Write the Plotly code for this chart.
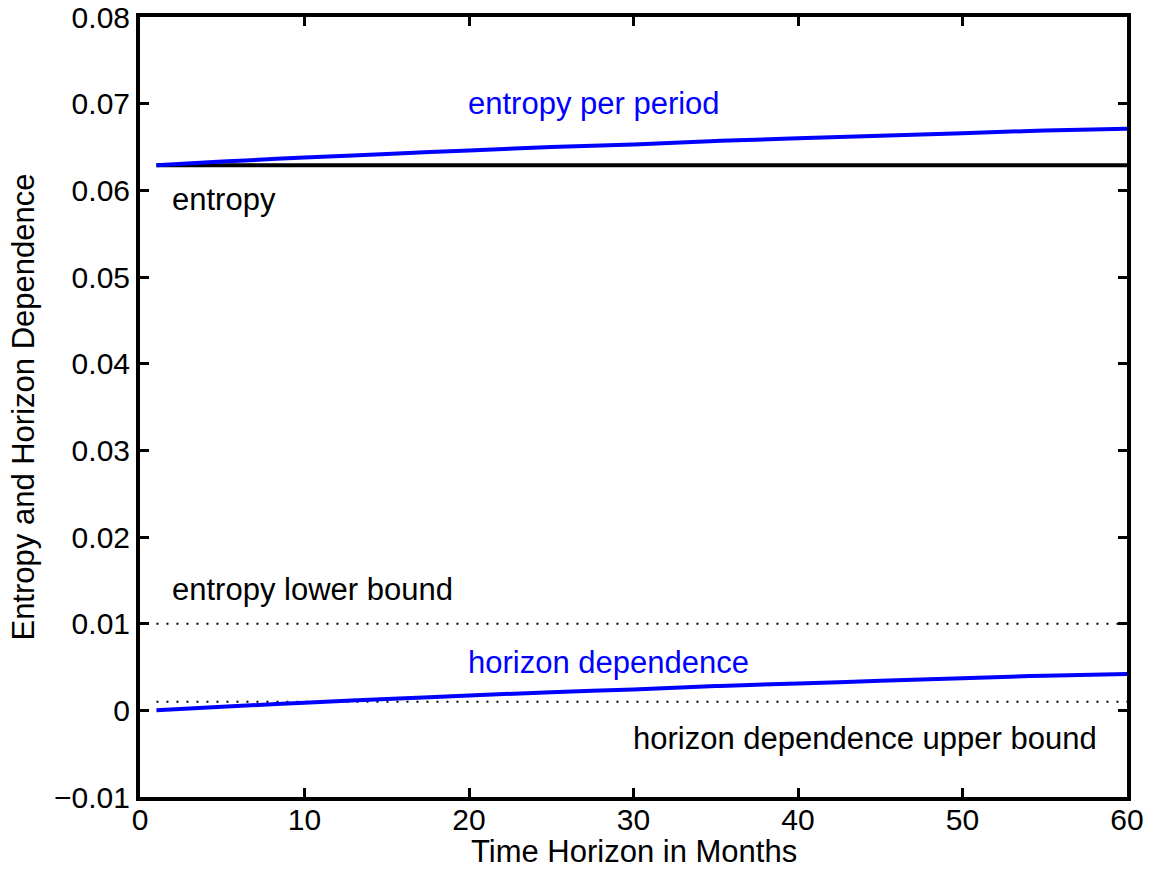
import plotly.graph_objects as go

# ---- data ----
months = [1, 5, 10, 15, 20, 25, 30, 35, 40, 45, 50, 55, 60]
horizon_dependence = [0.0, 0.00042, 0.00088, 0.0013, 0.0017, 0.0021, 0.0024,
                      0.0028, 0.0031, 0.0034, 0.0037, 0.0040, 0.0042]
entropy_value = 0.0629
entropy_per_period = [0.0629, 0.06332, 0.06378, 0.0642, 0.0646, 0.065, 0.0653,
                      0.0657, 0.066, 0.0663, 0.0666, 0.0669, 0.0671]
entropy_lower_bound = 0.01
hd_upper_bound = 0.001
bound_x = [1, 60]

x_ticks = [0, 10, 20, 30, 40, 50, 60]
y_ticks = [-0.01, 0, 0.01, 0.02, 0.03, 0.04, 0.05, 0.06, 0.07, 0.08]
y_ticktext = ["\u22120.01", "0", "0.01", "0.02", "0.03", "0.04", "0.05", "0.06", "0.07", "0.08"]

labels = [
    ("entropy per period", 20, 0.07, "#0000ff"),
    ("entropy", 2, 0.059, "#000000"),
    ("entropy lower bound", 2, 0.014, "#000000"),
    ("horizon dependence", 20, 0.0055, "#0000ff"),
    ("horizon dependence upper bound", 30, -0.0033, "#000000"),
]

FONT = "Liberation Sans, Arial, Helvetica, sans-serif"
FS = 30
FS_TEXT = 31

fig = go.Figure()
fig.add_trace(go.Scatter(x=bound_x, y=[entropy_lower_bound] * 2, mode="lines",
                         line=dict(color="black", width=2, dash="2px,8px")))
fig.add_trace(go.Scatter(x=bound_x, y=[hd_upper_bound] * 2, mode="lines",
                         line=dict(color="black", width=2, dash="2px,8px")))
fig.add_trace(go.Scatter(x=bound_x, y=[entropy_value] * 2, mode="lines",
                         line=dict(color="black", width=4)))
fig.add_trace(go.Scatter(x=months, y=entropy_per_period, mode="lines",
                         line=dict(color="#0000ff", width=4, shape="spline")))
fig.add_trace(go.Scatter(x=months, y=horizon_dependence, mode="lines",
                         line=dict(color="#0000ff", width=4, shape="spline")))

for text, x, y, c in labels:
    fig.add_annotation(x=x, y=y, xref="x", yref="y", text=text, showarrow=False,
                       xanchor="left", yanchor="middle", xshift=-3,
                       font=dict(family=FONT, size=FS_TEXT, color=c))

fig.add_annotation(x=0.5, y=0, xref="paper", yref="paper", yshift=-54,
                   text="Time Horizon in Months", showarrow=False,
                   xanchor="center", yanchor="middle",
                   font=dict(family=FONT, size=FS_TEXT, color="black"))
fig.add_annotation(x=-0.119, y=0.5, xref="paper", yref="paper",
                   text="Entropy and Horizon Dependence", showarrow=False, textangle=-90,
                   xanchor="center", yanchor="middle",
                   font=dict(family=FONT, size=FS_TEXT, color="black"))

axis_common = dict(showline=True, linecolor="black", linewidth=4, mirror="ticks",
                   ticks="inside", ticklen=9, tickwidth=3, tickcolor="black",
                   showgrid=False, zeroline=False, ticklabeloverflow="allow",
                   tickfont=dict(family=FONT, size=FS, color="black"))

fig.update_xaxes(range=[0, 60], tickvals=x_ticks, ticktext=[str(t) for t in x_ticks],
                 ticklabelstandoff=-7, **axis_common)
fig.update_yaxes(range=[-0.01, 0.08], tickvals=y_ticks, ticktext=y_ticktext,
                 **axis_common)

# page body has an 8px margin, so the figure is shrunk by 8px on each axis
fig.update_layout(width=1143, height=863, showlegend=False,
                  paper_bgcolor="white", plot_bgcolor="white",
                  margin=dict(l=132, r=24, t=9, b=74, autoexpand=False),
                  font=dict(family=FONT, size=FS, color="black"))

fig.write_html("out.html")
